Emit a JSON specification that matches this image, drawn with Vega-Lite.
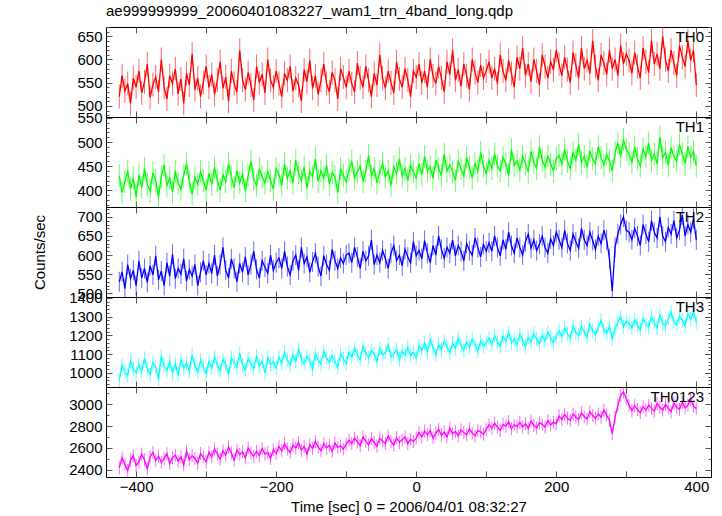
{
"$schema":"https://vega.github.io/schema/vega-lite/v6.json",
"background":"white",
"padding":{"left":32,"top":3,"right":5,"bottom":5},
"spacing":0,
"bounds":"flush",
"config":{"font":"Liberation Sans","view":{"stroke":"black","strokeWidth":1},"axis":{"domain":false,"grid":false,"labelFont":"Liberation Sans","labelFontSize":15,"labelColor":"black","titleFont":"Liberation Sans","titleFontSize":15,"titleFontWeight":"normal","titleColor":"black","tickColor":"#555","tickWidth":1,"labelOverlap":false,"labelFlush":false,"labelBound":false,"minExtent":0}},
"data":{"values":[
{"t":-424,"a":520,"b":430,"c":530,"d":960,"e":2420},
{"t":-420,"a":565,"b":395,"c":556,"d":1040,"e":2510},
{"t":-416,"a":532,"b":418,"c":512,"d":1005,"e":2450},
{"t":-412,"a":548,"b":440,"c":575,"d":985,"e":2395},
{"t":-408,"a":505,"b":402,"c":538,"d":1062,"e":2488},
{"t":-404,"a":560,"b":425,"c":560,"d":1020,"e":2530},
{"t":-400,"a":540,"b":386,"c":520,"d":998,"e":2440},
{"t":-396,"a":575,"b":432,"c":585,"d":1045,"e":2475},
{"t":-392,"a":528,"b":405,"c":540,"d":1008,"e":2545},
{"t":-388,"a":552,"b":445,"c":565,"d":1078,"e":2490},
{"t":-384,"a":590,"b":412,"c":528,"d":1022,"e":2410},
{"t":-380,"a":518,"b":398,"c":572,"d":990,"e":2520},
{"t":-376,"a":546,"b":436,"c":548,"d":1055,"e":2560},
{"t":-372,"a":562,"b":420,"c":598,"d":1030,"e":2485},
{"t":-368,"a":530,"b":385,"c":535,"d":965,"e":2525},
{"t":-364,"a":600,"b":428,"c":558,"d":1090,"e":2470},
{"t":-360,"a":540,"b":452,"c":520,"d":1035,"e":2505},
{"t":-356,"a":515,"b":410,"c":580,"d":1012,"e":2548},
{"t":-352,"a":565,"b":425,"c":545,"d":1060,"e":2460},
{"t":-348,"a":548,"b":396,"c":602,"d":1000,"e":2512},
{"t":-344,"a":580,"b":440,"c":538,"d":1048,"e":2535},
{"t":-340,"a":526,"b":415,"c":565,"d":985,"e":2480},
{"t":-336,"a":558,"b":402,"c":550,"d":1070,"e":2520},
{"t":-332,"a":505,"b":430,"c":590,"d":1025,"e":2445},
{"t":-328,"a":570,"b":455,"c":532,"d":1052,"e":2568},
{"t":-324,"a":545,"b":418,"c":562,"d":1010,"e":2495},
{"t":-320,"a":612,"b":392,"c":545,"d":1095,"e":2530},
{"t":-316,"a":535,"b":426,"c":575,"d":1040,"e":2505},
{"t":-312,"a":560,"b":412,"c":520,"d":1005,"e":2460},
{"t":-308,"a":520,"b":438,"c":555,"d":1065,"e":2550},
{"t":-304,"a":550,"b":420,"c":585,"d":1030,"e":2515},
{"t":-300,"a":585,"b":400,"c":548,"d":995,"e":2475},
{"t":-296,"a":540,"b":435,"c":578,"d":1060,"e":2560},
{"t":-292,"a":568,"b":412,"c":552,"d":1025,"e":2520},
{"t":-288,"a":525,"b":448,"c":600,"d":1085,"e":2590},
{"t":-284,"a":555,"b":420,"c":545,"d":1040,"e":2545},
{"t":-280,"a":595,"b":400,"c":575,"d":1010,"e":2500},
{"t":-276,"a":538,"b":432,"c":620,"d":1070,"e":2575},
{"t":-272,"a":562,"b":418,"c":560,"d":1045,"e":2535},
{"t":-268,"a":510,"b":455,"c":540,"d":990,"e":2610},
{"t":-264,"a":575,"b":428,"c":590,"d":1080,"e":2555},
{"t":-260,"a":548,"b":405,"c":565,"d":1055,"e":2490},
{"t":-256,"a":530,"b":440,"c":530,"d":1030,"e":2580},
{"t":-252,"a":620,"b":415,"c":578,"d":1105,"e":2540},
{"t":-248,"a":556,"b":435,"c":555,"d":1040,"e":2565},
{"t":-244,"a":535,"b":398,"c":595,"d":1015,"e":2510},
{"t":-240,"a":572,"b":430,"c":548,"d":1075,"e":2600},
{"t":-236,"a":545,"b":460,"c":575,"d":1050,"e":2555},
{"t":-232,"a":512,"b":422,"c":610,"d":1020,"e":2525},
{"t":-228,"a":585,"b":410,"c":562,"d":1090,"e":2570},
{"t":-224,"a":550,"b":445,"c":540,"d":1035,"e":2530},
{"t":-220,"a":568,"b":428,"c":585,"d":1062,"e":2595},
{"t":-216,"a":528,"b":415,"c":568,"d":1000,"e":2545},
{"t":-212,"a":600,"b":438,"c":552,"d":1080,"e":2560},
{"t":-208,"a":555,"b":420,"c":600,"d":1045,"e":2505},
{"t":-204,"a":540,"b":402,"c":560,"d":1058,"e":2585},
{"t":-200,"a":575,"b":445,"c":580,"d":1025,"e":2550},
{"t":-196,"a":548,"b":432,"c":592,"d":1085,"e":2615},
{"t":-192,"a":520,"b":410,"c":565,"d":1050,"e":2575},
{"t":-188,"a":570,"b":455,"c":610,"d":1110,"e":2640},
{"t":-184,"a":555,"b":425,"c":570,"d":1070,"e":2590},
{"t":-180,"a":585,"b":440,"c":548,"d":1040,"e":2560},
{"t":-176,"a":532,"b":415,"c":585,"d":1095,"e":2625},
{"t":-172,"a":560,"b":462,"c":600,"d":1060,"e":2600},
{"t":-168,"a":545,"b":435,"c":560,"d":1125,"e":2650},
{"t":-164,"a":510,"b":420,"c":620,"d":1075,"e":2580},
{"t":-160,"a":578,"b":448,"c":578,"d":1048,"e":2615},
{"t":-156,"a":552,"b":405,"c":595,"d":1088,"e":2545},
{"t":-152,"a":598,"b":438,"c":555,"d":1065,"e":2630},
{"t":-148,"a":538,"b":428,"c":582,"d":1020,"e":2595},
{"t":-144,"a":565,"b":465,"c":605,"d":1100,"e":2660},
{"t":-140,"a":525,"b":418,"c":570,"d":1070,"e":2610},
{"t":-136,"a":555,"b":440,"c":545,"d":1045,"e":2575},
{"t":-132,"a":590,"b":425,"c":598,"d":1115,"e":2640},
{"t":-128,"a":548,"b":452,"c":575,"d":1080,"e":2600},
{"t":-124,"a":530,"b":412,"c":560,"d":1055,"e":2625},
{"t":-120,"a":572,"b":436,"c":615,"d":1090,"e":2570},
{"t":-116,"a":555,"b":428,"c":585,"d":1060,"e":2645},
{"t":-112,"a":515,"b":395,"c":565,"d":1030,"e":2605},
{"t":-108,"a":580,"b":445,"c":592,"d":1102,"e":2620},
{"t":-104,"a":562,"b":430,"c":578,"d":1075,"e":2590},
{"t":-100,"a":540,"b":418,"c":600,"d":1050,"e":2635},
{"t":-96,"a":575,"b":442,"c":605,"d":1110,"e":2670},
{"t":-92,"a":548,"b":460,"c":580,"d":1085,"e":2640},
{"t":-88,"a":530,"b":425,"c":620,"d":1130,"e":2690},
{"t":-84,"a":592,"b":438,"c":595,"d":1095,"e":2655},
{"t":-80,"a":560,"b":450,"c":565,"d":1070,"e":2620},
{"t":-76,"a":540,"b":418,"c":610,"d":1140,"e":2700},
{"t":-72,"a":585,"b":440,"c":585,"d":1105,"e":2660},
{"t":-68,"a":555,"b":472,"c":598,"d":1080,"e":2630},
{"t":-64,"a":520,"b":430,"c":640,"d":1120,"e":2685},
{"t":-60,"a":570,"b":445,"c":575,"d":1100,"e":2650},
{"t":-56,"a":545,"b":415,"c":600,"d":1060,"e":2615},
{"t":-52,"a":610,"b":438,"c":580,"d":1130,"e":2690},
{"t":-48,"a":560,"b":455,"c":612,"d":1095,"e":2665},
{"t":-44,"a":538,"b":428,"c":590,"d":1110,"e":2640},
{"t":-40,"a":575,"b":440,"c":565,"d":1150,"e":2710},
{"t":-36,"a":550,"b":410,"c":605,"d":1085,"e":2660},
{"t":-32,"a":528,"b":448,"c":625,"d":1100,"e":2625},
{"t":-28,"a":595,"b":435,"c":585,"d":1125,"e":2695},
{"t":-24,"a":558,"b":465,"c":600,"d":1070,"e":2650},
{"t":-20,"a":540,"b":430,"c":572,"d":1115,"e":2675},
{"t":-16,"a":580,"b":445,"c":615,"d":1095,"e":2700},
{"t":-12,"a":556,"b":420,"c":595,"d":1135,"e":2640},
{"t":-8,"a":520,"b":452,"c":580,"d":1090,"e":2680},
{"t":-4,"a":575,"b":438,"c":635,"d":1110,"e":2660},
{"t":0,"a":562,"b":425,"c":598,"d":1080,"e":2690},
{"t":4,"a":590,"b":455,"c":612,"d":1145,"e":2740},
{"t":8,"a":550,"b":432,"c":590,"d":1120,"e":2700},
{"t":12,"a":575,"b":470,"c":638,"d":1160,"e":2755},
{"t":16,"a":540,"b":440,"c":605,"d":1110,"e":2720},
{"t":20,"a":600,"b":448,"c":580,"d":1175,"e":2760},
{"t":24,"a":565,"b":425,"c":625,"d":1135,"e":2690},
{"t":28,"a":548,"b":462,"c":600,"d":1095,"e":2735},
{"t":32,"a":585,"b":445,"c":650,"d":1150,"e":2770},
{"t":36,"a":560,"b":430,"c":615,"d":1125,"e":2715},
{"t":40,"a":530,"b":475,"c":592,"d":1170,"e":2745},
{"t":44,"a":595,"b":440,"c":620,"d":1140,"e":2700},
{"t":48,"a":568,"b":452,"c":605,"d":1105,"e":2780},
{"t":52,"a":620,"b":438,"c":640,"d":1160,"e":2730},
{"t":56,"a":555,"b":420,"c":598,"d":1130,"e":2750},
{"t":60,"a":578,"b":460,"c":625,"d":1185,"e":2710},
{"t":64,"a":542,"b":445,"c":610,"d":1145,"e":2765},
{"t":68,"a":590,"b":430,"c":585,"d":1120,"e":2740},
{"t":72,"a":565,"b":468,"c":630,"d":1165,"e":2720},
{"t":76,"a":535,"b":448,"c":612,"d":1135,"e":2775},
{"t":80,"a":600,"b":425,"c":600,"d":1180,"e":2735},
{"t":84,"a":572,"b":455,"c":645,"d":1150,"e":2710},
{"t":88,"a":550,"b":440,"c":620,"d":1115,"e":2760},
{"t":92,"a":588,"b":478,"c":595,"d":1170,"e":2745},
{"t":96,"a":560,"b":450,"c":628,"d":1140,"e":2725},
{"t":100,"a":575,"b":435,"c":610,"d":1160,"e":2770},
{"t":104,"a":595,"b":462,"c":632,"d":1185,"e":2810},
{"t":108,"a":560,"b":445,"c":610,"d":1150,"e":2780},
{"t":112,"a":580,"b":475,"c":650,"d":1200,"e":2825},
{"t":116,"a":548,"b":450,"c":620,"d":1165,"e":2790},
{"t":120,"a":610,"b":440,"c":598,"d":1140,"e":2760},
{"t":124,"a":575,"b":468,"c":640,"d":1195,"e":2815},
{"t":128,"a":555,"b":455,"c":615,"d":1170,"e":2800},
{"t":132,"a":598,"b":430,"c":660,"d":1215,"e":2840},
{"t":136,"a":570,"b":485,"c":625,"d":1160,"e":2775},
{"t":140,"a":540,"b":452,"c":605,"d":1180,"e":2810},
{"t":144,"a":605,"b":460,"c":645,"d":1150,"e":2795},
{"t":148,"a":580,"b":442,"c":620,"d":1205,"e":2835},
{"t":152,"a":625,"b":470,"c":600,"d":1175,"e":2790},
{"t":156,"a":565,"b":455,"c":635,"d":1140,"e":2820},
{"t":160,"a":590,"b":438,"c":655,"d":1190,"e":2780},
{"t":164,"a":552,"b":480,"c":618,"d":1165,"e":2845},
{"t":168,"a":600,"b":458,"c":640,"d":1210,"e":2805},
{"t":172,"a":575,"b":445,"c":612,"d":1180,"e":2785},
{"t":176,"a":545,"b":490,"c":628,"d":1155,"e":2830},
{"t":180,"a":610,"b":462,"c":650,"d":1200,"e":2815},
{"t":184,"a":585,"b":448,"c":620,"d":1170,"e":2790},
{"t":188,"a":560,"b":470,"c":605,"d":1215,"e":2850},
{"t":192,"a":595,"b":455,"c":642,"d":1185,"e":2810},
{"t":196,"a":578,"b":440,"c":625,"d":1160,"e":2835},
{"t":200,"a":620,"b":465,"c":660,"d":1195,"e":2820},
{"t":204,"a":590,"b":472,"c":640,"d":1225,"e":2890},
{"t":208,"a":565,"b":455,"c":620,"d":1195,"e":2860},
{"t":212,"a":605,"b":485,"c":665,"d":1240,"e":2905},
{"t":216,"a":578,"b":460,"c":630,"d":1210,"e":2870},
{"t":220,"a":550,"b":445,"c":612,"d":1185,"e":2850},
{"t":224,"a":615,"b":478,"c":655,"d":1250,"e":2910},
{"t":228,"a":588,"b":462,"c":635,"d":1215,"e":2880},
{"t":232,"a":560,"b":495,"c":618,"d":1200,"e":2860},
{"t":236,"a":625,"b":458,"c":670,"d":1245,"e":2920},
{"t":240,"a":580,"b":470,"c":640,"d":1220,"e":2885},
{"t":244,"a":598,"b":448,"c":625,"d":1190,"e":2865},
{"t":248,"a":570,"b":482,"c":660,"d":1260,"e":2930},
{"t":252,"a":640,"b":465,"c":638,"d":1225,"e":2895},
{"t":256,"a":585,"b":455,"c":615,"d":1205,"e":2870},
{"t":260,"a":555,"b":490,"c":650,"d":1240,"e":2910},
{"t":264,"a":610,"b":468,"c":630,"d":1280,"e":2880},
{"t":268,"a":592,"b":452,"c":665,"d":1230,"e":2945},
{"t":272,"a":568,"b":475,"c":640,"d":1210,"e":2900},
{"t":276,"a":620,"b":460,"c":590,"d":1250,"e":2850},
{"t":280,"a":580,"b":440,"c":505,"d":1180,"e":2730},
{"t":284,"a":600,"b":478,"c":620,"d":1235,"e":2880},
{"t":288,"a":565,"b":498,"c":655,"d":1270,"e":2990},
{"t":292,"a":630,"b":470,"c":680,"d":1300,"e":3080},
{"t":296,"a":590,"b":505,"c":700,"d":1245,"e":3110},
{"t":300,"a":612,"b":485,"c":665,"d":1275,"e":3050},
{"t":304,"a":598,"b":475,"c":660,"d":1265,"e":2990},
{"t":308,"a":570,"b":458,"c":640,"d":1240,"e":2940},
{"t":312,"a":615,"b":490,"c":670,"d":1285,"e":2985},
{"t":316,"a":585,"b":465,"c":650,"d":1255,"e":2950},
{"t":320,"a":560,"b":450,"c":625,"d":1230,"e":2920},
{"t":324,"a":625,"b":485,"c":680,"d":1290,"e":2975},
{"t":328,"a":595,"b":470,"c":655,"d":1260,"e":2945},
{"t":332,"a":572,"b":498,"c":635,"d":1245,"e":2990},
{"t":336,"a":640,"b":462,"c":690,"d":1300,"e":2960},
{"t":340,"a":590,"b":475,"c":660,"d":1270,"e":2935},
{"t":344,"a":612,"b":455,"c":645,"d":1240,"e":3005},
{"t":348,"a":580,"b":510,"c":700,"d":1310,"e":2970},
{"t":352,"a":650,"b":468,"c":650,"d":1265,"e":2945},
{"t":356,"a":600,"b":478,"c":635,"d":1250,"e":2995},
{"t":360,"a":575,"b":452,"c":672,"d":1290,"e":2960},
{"t":364,"a":620,"b":488,"c":655,"d":1325,"e":2930},
{"t":368,"a":592,"b":470,"c":690,"d":1270,"e":3010},
{"t":372,"a":565,"b":460,"c":645,"d":1255,"e":2970},
{"t":376,"a":630,"b":495,"c":665,"d":1300,"e":2950},
{"t":380,"a":605,"b":475,"c":705,"d":1280,"e":3020},
{"t":384,"a":585,"b":455,"c":650,"d":1250,"e":2965},
{"t":388,"a":640,"b":490,"c":680,"d":1315,"e":2990},
{"t":392,"a":598,"b":468,"c":660,"d":1285,"e":3040},
{"t":396,"a":620,"b":480,"c":695,"d":1330,"e":2980},
{"t":400,"a":545,"b":450,"c":640,"d":1270,"e":2960}
]},
"vconcat":[
{"width":605,"height":90,
 "title":{"text":"ae999999999_20060401083227_wam1_trn_4band_long.qdp","anchor":"start","frame":"group","fontSize":15,"fontWeight":"normal","font":"Liberation Sans","color":"black","offset":1},
 "layer":[
  {"mark":{"type":"tick","orient":"vertical","color":"#ff0000","clip":true,"size":24,"thickness":1,"opacity":0.6},
   "encoding":{"x":{"field":"t","type":"quantitative","axis":null},"y":{"field":"a","type":"quantitative","axis":null}}},
  {"mark":{"type":"line","color":"#ff0000","strokeWidth":1.3,"clip":true},
   "encoding":{
    "x":{"field":"t","type":"quantitative","scale":{"domain":[-443,421],"nice":false},"axis":{"orient":"bottom","values":[-400,-300,-200,-100,0,100,200,300,400],"labels":false,"title":null,"tickSize":-6}},
    "y":{"field":"a","type":"quantitative","scale":{"domain":[476,670],"nice":false,"zero":false},"axis":{"orient":"left","values":[480,490,500,510,520,530,540,550,560,570,580,590,600,610,620,630,640,650,660,670],"labelExpr":"datum.value % 50 == 0 ? datum.label : ''","tickSize":{"condition":{"test":"datum.value % 50 == 0","value":-6},"value":-3},"title":null,"labelPadding":10}}}},
  {"data":{"values":[{}]},
   "mark":{"type":"text","align":"right","baseline":"top","fontSize":15,"dy":3,"font":"Liberation Sans","color":"black"},
   "encoding":{
    "x":{"datum":411,"type":"quantitative","axis":{"orient":"top","values":[-400,-300,-200,-100,0,100,200,300,400],"labels":false,"title":null,"tickSize":-6}},
    "y":{"datum":670,"type":"quantitative","axis":{"orient":"right","values":[480,490,500,510,520,530,540,550,560,570,580,590,600,610,620,630,640,650,660,670],"labels":false,"tickSize":{"condition":{"test":"datum.value % 50 == 0","value":-6},"value":-3},"title":null}},
    "text":{"value":"TH0"}}}
 ],
 "resolve":{"axis":{"x":"independent","y":"independent"}}},
{"width":605,"height":90,
 "layer":[
  {"mark":{"type":"tick","orient":"vertical","color":"#00ff00","clip":true,"size":23,"thickness":1,"opacity":0.6},
   "encoding":{"x":{"field":"t","type":"quantitative","axis":null},"y":{"field":"b","type":"quantitative","axis":null}}},
  {"mark":{"type":"line","color":"#00ff00","strokeWidth":1.3,"clip":true},
   "encoding":{
    "x":{"field":"t","type":"quantitative","scale":{"domain":[-443,421],"nice":false},"axis":{"orient":"bottom","values":[-400,-300,-200,-100,0,100,200,300,400],"labels":false,"title":null,"tickSize":-6}},
    "y":{"field":"b","type":"quantitative","scale":{"domain":[365,552],"nice":false,"zero":false},"axis":{"orient":"left","values":[370,380,390,400,410,420,430,440,450,460,470,480,490,500,510,520,530,540,550],"labelExpr":"datum.value % 50 == 0 ? datum.label : ''","tickSize":{"condition":{"test":"datum.value % 50 == 0","value":-6},"value":-3},"title":null,"labelPadding":10}}}},
  {"data":{"values":[{}]},
   "mark":{"type":"text","align":"right","baseline":"top","fontSize":15,"dy":3,"font":"Liberation Sans","color":"black"},
   "encoding":{
    "x":{"datum":411,"type":"quantitative","axis":{"orient":"top","values":[-400,-300,-200,-100,0,100,200,300,400],"labels":false,"title":null,"tickSize":-6}},
    "y":{"datum":552,"type":"quantitative","axis":{"orient":"right","values":[370,380,390,400,410,420,430,440,450,460,470,480,490,500,510,520,530,540,550],"labels":false,"tickSize":{"condition":{"test":"datum.value % 50 == 0","value":-6},"value":-3},"title":null}},
    "text":{"value":"TH1"}}}
 ],
 "resolve":{"axis":{"x":"independent","y":"independent"}}},
{"width":605,"height":90,
 "layer":[
  {"mark":{"type":"tick","orient":"vertical","color":"#0000ff","clip":true,"size":20,"thickness":1,"opacity":0.6},
   "encoding":{"x":{"field":"t","type":"quantitative","axis":null},"y":{"field":"c","type":"quantitative","axis":null}}},
  {"mark":{"type":"line","color":"#0000ff","strokeWidth":1.3,"clip":true},
   "encoding":{
    "x":{"field":"t","type":"quantitative","scale":{"domain":[-443,421],"nice":false},"axis":{"orient":"bottom","values":[-400,-300,-200,-100,0,100,200,300,400],"labels":false,"title":null,"tickSize":-6}},
    "y":{"field":"c","type":"quantitative","scale":{"domain":[490,726],"nice":false,"zero":false},"axis":{"orient":"left","values":[490,500,510,520,530,540,550,560,570,580,590,600,610,620,630,640,650,660,670,680,690,700,710,720],"labelExpr":"datum.value % 50 == 0 ? datum.label : ''","tickSize":{"condition":{"test":"datum.value % 50 == 0","value":-6},"value":-3},"title":"Counts/sec","titlePadding":29,"labelPadding":10}}}},
  {"data":{"values":[{}]},
   "mark":{"type":"text","align":"right","baseline":"top","fontSize":15,"dy":3,"font":"Liberation Sans","color":"black"},
   "encoding":{
    "x":{"datum":411,"type":"quantitative","axis":{"orient":"top","values":[-400,-300,-200,-100,0,100,200,300,400],"labels":false,"title":null,"tickSize":-6}},
    "y":{"datum":726,"type":"quantitative","axis":{"orient":"right","values":[490,500,510,520,530,540,550,560,570,580,590,600,610,620,630,640,650,660,670,680,690,700,710,720],"labels":false,"tickSize":{"condition":{"test":"datum.value % 50 == 0","value":-6},"value":-3},"title":null}},
    "text":{"value":"TH2"}}}
 ],
 "resolve":{"axis":{"x":"independent","y":"independent"}}},
{"width":605,"height":90,
 "layer":[
  {"mark":{"type":"tick","orient":"vertical","color":"#00ffff","clip":true,"size":14,"thickness":1,"opacity":0.6},
   "encoding":{"x":{"field":"t","type":"quantitative","axis":null},"y":{"field":"d","type":"quantitative","axis":null}}},
  {"mark":{"type":"line","color":"#00ffff","strokeWidth":1.3,"clip":true},
   "encoding":{
    "x":{"field":"t","type":"quantitative","scale":{"domain":[-443,421],"nice":false},"axis":{"orient":"bottom","values":[-400,-300,-200,-100,0,100,200,300,400],"labels":false,"title":null,"tickSize":-6}},
    "y":{"field":"d","type":"quantitative","scale":{"domain":[924,1405],"nice":false,"zero":false},"axis":{"orient":"left","values":[940,960,980,1000,1020,1040,1060,1080,1100,1120,1140,1160,1180,1200,1220,1240,1260,1280,1300,1320,1340,1360,1380,1400],"labelExpr":"datum.value % 100 == 0 ? datum.label : ''","tickSize":{"condition":{"test":"datum.value % 100 == 0","value":-6},"value":-3},"title":null,"labelPadding":10,"format":"d"}}}},
  {"data":{"values":[{}]},
   "mark":{"type":"text","align":"right","baseline":"top","fontSize":15,"dy":3,"font":"Liberation Sans","color":"black"},
   "encoding":{
    "x":{"datum":411,"type":"quantitative","axis":{"orient":"top","values":[-400,-300,-200,-100,0,100,200,300,400],"labels":false,"title":null,"tickSize":-6}},
    "y":{"datum":1405,"type":"quantitative","axis":{"orient":"right","values":[940,960,980,1000,1020,1040,1060,1080,1100,1120,1140,1160,1180,1200,1220,1240,1260,1280,1300,1320,1340,1360,1380,1400],"labels":false,"tickSize":{"condition":{"test":"datum.value % 100 == 0","value":-6},"value":-3},"title":null}},
    "text":{"value":"TH3"}}}
 ],
 "resolve":{"axis":{"x":"independent","y":"independent"}}},
{"width":605,"height":90,
 "layer":[
  {"mark":{"type":"tick","orient":"vertical","color":"#ff00ff","clip":true,"size":13,"thickness":1,"opacity":0.6},
   "encoding":{"x":{"field":"t","type":"quantitative","axis":null},"y":{"field":"e","type":"quantitative","axis":null}}},
  {"mark":{"type":"line","color":"#ff00ff","strokeWidth":1.3,"clip":true},
   "encoding":{
    "x":{"field":"t","type":"quantitative","scale":{"domain":[-443,421],"nice":false},"axis":{"orient":"bottom","values":[-400,-300,-200,-100,0,100,200,300,400],"labelExpr":"datum.value % 200 == 0 ? datum.label : ''","title":"Time [sec] 0 = 2006/04/01 08:32:27","tickSize":-6,"labelPadding":8,"titlePadding":5}},
    "y":{"field":"e","type":"quantitative","scale":{"domain":[2336,3155],"nice":false,"zero":false},"axis":{"orient":"left","values":[2400,2500,2600,2700,2800,2900,3000,3100],"labelExpr":"datum.value % 200 == 0 ? datum.label : ''","tickSize":{"condition":{"test":"datum.value % 200 == 0","value":-6},"value":-3},"title":null,"labelPadding":10,"format":"d"}}}},
  {"data":{"values":[{}]},
   "mark":{"type":"text","align":"right","baseline":"top","fontSize":15,"dy":3,"font":"Liberation Sans","color":"black"},
   "encoding":{
    "x":{"datum":411,"type":"quantitative","axis":{"orient":"top","values":[-400,-300,-200,-100,0,100,200,300,400],"labels":false,"title":null,"tickSize":-6}},
    "y":{"datum":3155,"type":"quantitative","axis":{"orient":"right","values":[2400,2500,2600,2700,2800,2900,3000,3100],"labels":false,"tickSize":{"condition":{"test":"datum.value % 200 == 0","value":-6},"value":-3},"title":null}},
    "text":{"value":"TH0123"}}}
 ],
 "resolve":{"axis":{"x":"independent","y":"independent"}}}
]
}
